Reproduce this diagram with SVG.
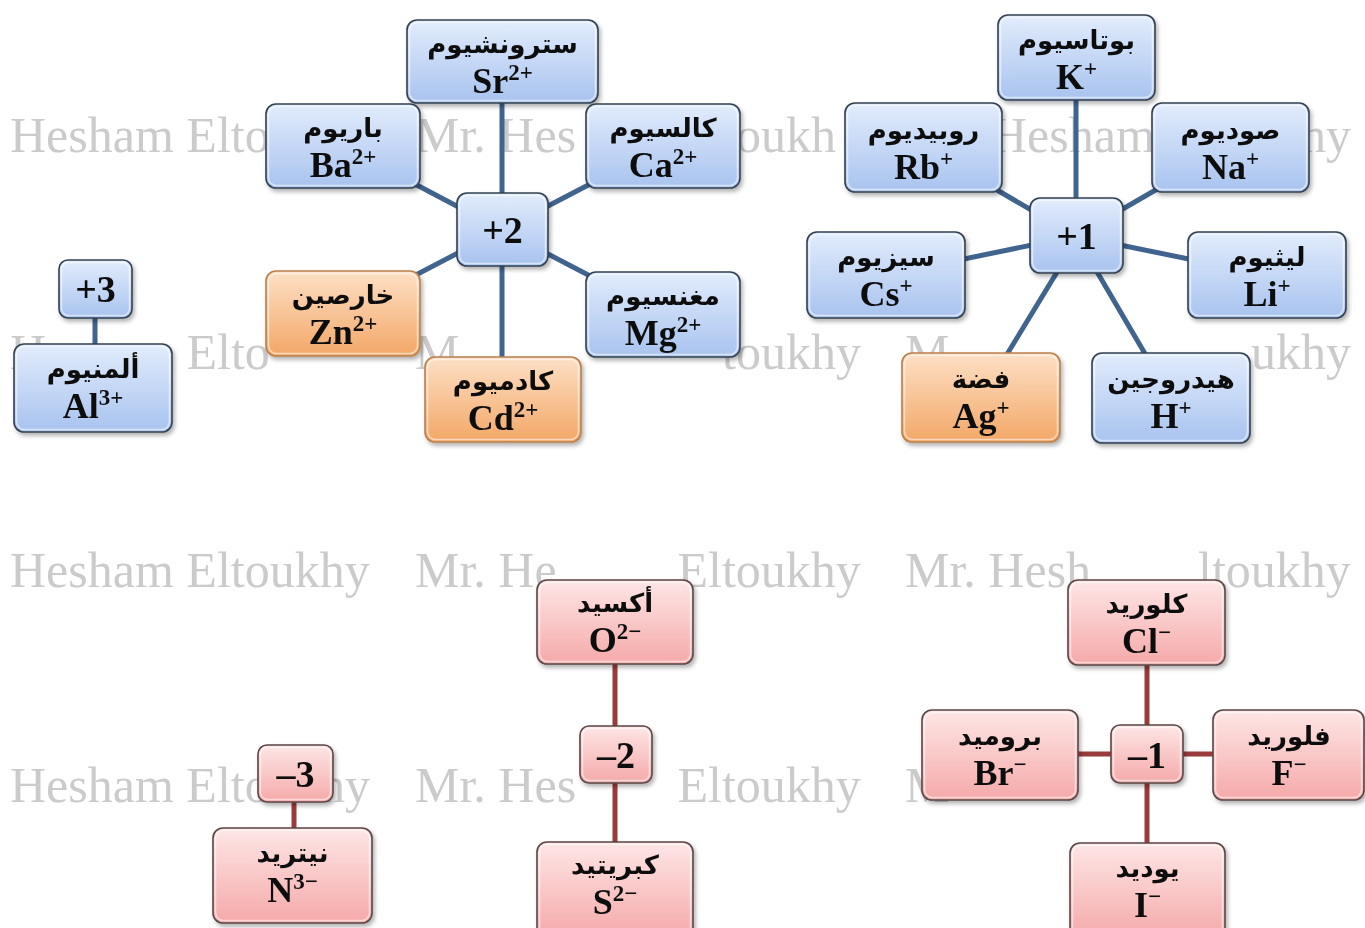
<svg xmlns="http://www.w3.org/2000/svg" width="1365" height="928" viewBox="0 0 1365 928">
<style>
.wm{font-family:"Liberation Serif",serif;font-size:50px;fill:#cbcbcb}
.node rect.b{stroke-width:1.6}
.blue rect.b{fill:url(#gBlue);stroke:#33404f}
.orange rect.b{fill:url(#gOrange);stroke:#b9804c}
.pink rect.b{fill:url(#gPink);stroke:#5a4646}
.node rect.h{fill:none;stroke:#ffffff;stroke-opacity:0.55;stroke-width:1.5}
.node{filter:url(#sh)}
.ar{font-family:"DejaVu Sans","Noto Sans",sans-serif;font-weight:bold;font-size:26px;fill:#111;text-anchor:middle}
.la{font-family:"Liberation Serif",serif;font-weight:bold;font-size:36px;fill:#111;text-anchor:middle}
.sup{font-size:23px}
.num{font-family:"Liberation Serif",serif;font-weight:bold;font-size:38px;fill:#111;text-anchor:middle}
.cb line{stroke:#41648f;stroke-width:5}
.cr line{stroke:#9a3b3d;stroke-width:5}
</style>
<defs>
<linearGradient id="gBlue" x1="0" y1="0" x2="0" y2="1">
<stop offset="0" stop-color="#e2ecfc"/><stop offset="1" stop-color="#a8c3ef"/>
</linearGradient>
<linearGradient id="gOrange" x1="0" y1="0" x2="0" y2="1">
<stop offset="0" stop-color="#fde0c6"/><stop offset="1" stop-color="#f3a767"/>
</linearGradient>
<linearGradient id="gPink" x1="0" y1="0" x2="0" y2="1">
<stop offset="0" stop-color="#fee6e6"/><stop offset="1" stop-color="#f5a9a9"/>
</linearGradient>
<filter id="sh" x="-10%" y="-10%" width="125%" height="130%">
<feDropShadow dx="2" dy="3" stdDeviation="2" flood-color="#000" flood-opacity="0.3"/>
</filter>
</defs>
<rect x="0" y="0" width="1365" height="928" fill="#ffffff"/>
<g id="watermark">
<text class="wm" x="10" y="152">Hesham Elto</text>
<text class="wm" x="415" y="152">Mr. Hes</text>
<text class="wm" x="736" y="152">oukh</text>
<text class="wm" x="991" y="152">Hesham</text>
<text class="wm" x="1301" y="152">hy</text>
<text class="wm" x="10" y="369">H</text>
<text class="wm" x="186.5" y="369">Elto</text>
<text class="wm" x="415" y="369">M</text>
<text class="wm" x="722" y="369">toukhy</text>
<text class="wm" x="905" y="369">M</text>
<text class="wm" x="1251" y="369">ukhy</text>
<text class="wm" x="10" y="587">Hesham Eltoukhy</text>
<text class="wm" x="415" y="587">Mr. He</text>
<text class="wm" x="677.5" y="587">Eltoukhy</text>
<text class="wm" x="905" y="587">Mr. Hesh</text>
<text class="wm" x="1198" y="587">ltoukhy</text>
<text class="wm" x="10" y="802">Hesham Elto</text>
<text class="wm" x="320" y="802">hy</text>
<text class="wm" x="415" y="802">Mr. Hes</text>
<text class="wm" x="677.5" y="802">Eltoukhy</text>
<text class="wm" x="905" y="802">M</text>
</g>
<g id="connectors">
<g class="cb">
<line x1="502" y1="100" x2="502" y2="360"/>
<line x1="502" y1="230" x2="343" y2="146"/>
<line x1="502" y1="230" x2="663" y2="146"/>
<line x1="502" y1="230" x2="343" y2="313"/>
<line x1="502" y1="230" x2="663" y2="314"/>
<line x1="95" y1="315" x2="95" y2="347"/>
<line x1="1076" y1="97" x2="1076" y2="236"/>
<line x1="1076" y1="236" x2="923" y2="147"/>
<line x1="1076" y1="236" x2="1230" y2="147"/>
<line x1="1076" y1="236" x2="886" y2="275"/>
<line x1="1076" y1="236" x2="1267" y2="275"/>
<line x1="1079" y1="236" x2="981" y2="397"/>
<line x1="1076" y1="236" x2="1171" y2="398"/>
</g>
<g class="cr">
<line x1="615" y1="660" x2="615" y2="846"/>
<line x1="294" y1="798" x2="294" y2="832"/>
<line x1="1147" y1="660" x2="1147" y2="846"/>
<line x1="1075" y1="754" x2="1216" y2="754"/>
</g>
</g>

<g id="n-sr" class="node blue"><rect class="b" x="407" y="20" width="191" height="83" rx="10"/><rect class="h" x="409.5" y="22.5" width="186" height="78" rx="8"/><text class="ar" x="502.5" y="53">سترونشيوم</text><text class="la" x="502.5" y="93">Sr<tspan class="sup" dy="-13">2+</tspan></text></g>
<g id="n-ba" class="node blue"><rect class="b" x="266" y="104" width="154" height="84" rx="10"/><rect class="h" x="268.5" y="106.5" width="149" height="79" rx="8"/><text class="ar" x="343" y="137">باريوم</text><text class="la" x="343" y="177">Ba<tspan class="sup" dy="-13">2+</tspan></text></g>
<g id="n-ca" class="node blue"><rect class="b" x="586" y="104" width="154" height="84" rx="10"/><rect class="h" x="588.5" y="106.5" width="149" height="79" rx="8"/><text class="ar" x="663" y="137">كالسيوم</text><text class="la" x="663" y="177">Ca<tspan class="sup" dy="-13">2+</tspan></text></g>
<g id="n-p2" class="node blue"><rect class="b" x="457" y="193" width="91" height="73" rx="10"/><rect class="h" x="459.5" y="195.5" width="86" height="68" rx="8"/><text class="num" x="502.5" y="243">+2</text></g>
<g id="n-zn" class="node orange"><rect class="b" x="266" y="271" width="154" height="85" rx="10"/><rect class="h" x="268.5" y="273.5" width="149" height="80" rx="8"/><text class="ar" x="343" y="304">خارصين</text><text class="la" x="343" y="344">Zn<tspan class="sup" dy="-13">2+</tspan></text></g>
<g id="n-mg" class="node blue"><rect class="b" x="586" y="272" width="154" height="85" rx="10"/><rect class="h" x="588.5" y="274.5" width="149" height="80" rx="8"/><text class="ar" x="663" y="305">مغنسيوم</text><text class="la" x="663" y="345">Mg<tspan class="sup" dy="-13">2+</tspan></text></g>
<g id="n-cd" class="node orange"><rect class="b" x="425" y="357" width="156" height="85" rx="10"/><rect class="h" x="427.5" y="359.5" width="151" height="80" rx="8"/><text class="ar" x="503" y="390">كادميوم</text><text class="la" x="503" y="430">Cd<tspan class="sup" dy="-13">2+</tspan></text></g>

<g id="n-p3" class="node blue"><rect class="b" x="59" y="260" width="73" height="58" rx="9"/><rect class="h" x="61.5" y="262.5" width="68" height="53" rx="7"/><text class="num" x="95.5" y="302">+3</text></g>
<g id="n-al" class="node blue"><rect class="b" x="14" y="344" width="158" height="88" rx="10"/><rect class="h" x="16.5" y="346.5" width="153" height="83" rx="8"/><text class="ar" x="93" y="378">ألمنيوم</text><text class="la" x="93" y="418">Al<tspan class="sup" dy="-13">3+</tspan></text></g>

<g id="n-k" class="node blue"><rect class="b" x="998" y="15" width="157" height="85" rx="10"/><rect class="h" x="1000.5" y="17.5" width="152" height="80" rx="8"/><text class="ar" x="1076.5" y="49">بوتاسيوم</text><text class="la" x="1076.5" y="89">K<tspan class="sup" dy="-13">+</tspan></text></g>
<g id="n-rb" class="node blue"><rect class="b" x="845" y="103" width="157" height="89" rx="10"/><rect class="h" x="847.5" y="105.5" width="152" height="84" rx="8"/><text class="ar" x="923.5" y="139">روبيديوم</text><text class="la" x="923.5" y="179">Rb<tspan class="sup" dy="-13">+</tspan></text></g>
<g id="n-na" class="node blue"><rect class="b" x="1152" y="103" width="157" height="89" rx="10"/><rect class="h" x="1154.5" y="105.5" width="152" height="84" rx="8"/><text class="ar" x="1230.5" y="139">صوديوم</text><text class="la" x="1230.5" y="179">Na<tspan class="sup" dy="-13">+</tspan></text></g>
<g id="n-p1" class="node blue"><rect class="b" x="1030" y="198" width="93" height="75" rx="10"/><rect class="h" x="1032.5" y="200.5" width="88" height="70" rx="8"/><text class="num" x="1076.5" y="249">+1</text></g>
<g id="n-cs" class="node blue"><rect class="b" x="807" y="232" width="158" height="86" rx="10"/><rect class="h" x="809.5" y="234.5" width="153" height="81" rx="8"/><text class="ar" x="886" y="266">سيزيوم</text><text class="la" x="886" y="306">Cs<tspan class="sup" dy="-13">+</tspan></text></g>
<g id="n-li" class="node blue"><rect class="b" x="1188" y="232" width="158" height="86" rx="10"/><rect class="h" x="1190.5" y="234.5" width="153" height="81" rx="8"/><text class="ar" x="1267" y="266">ليثيوم</text><text class="la" x="1267" y="306">Li<tspan class="sup" dy="-13">+</tspan></text></g>
<g id="n-ag" class="node orange"><rect class="b" x="902" y="353" width="158" height="89" rx="10"/><rect class="h" x="904.5" y="355.5" width="153" height="84" rx="8"/><text class="ar" x="981" y="388">فضة</text><text class="la" x="981" y="428">Ag<tspan class="sup" dy="-13">+</tspan></text></g>
<g id="n-h" class="node blue"><rect class="b" x="1092" y="353" width="158" height="90" rx="10"/><rect class="h" x="1094.5" y="355.5" width="153" height="85" rx="8"/><text class="ar" x="1171" y="388">هيدروجين</text><text class="la" x="1171" y="428">H<tspan class="sup" dy="-13">+</tspan></text></g>

<g id="n-o" class="node pink"><rect class="b" x="537" y="580" width="156" height="84" rx="10"/><rect class="h" x="539.5" y="582.5" width="151" height="79" rx="8"/><text class="ar" x="615" y="612">أكسيد</text><text class="la" x="615" y="652">O<tspan class="sup" dy="-13">2−</tspan></text></g>
<g id="n-m2" class="node pink"><rect class="b" x="580" y="726" width="72" height="57" rx="9"/><rect class="h" x="582.5" y="728.5" width="67" height="52" rx="7"/><text class="num" x="616" y="768">–2</text></g>
<g id="n-s" class="node pink"><rect class="b" x="537" y="842" width="156" height="95" rx="10"/><rect class="h" x="539.5" y="844.5" width="151" height="90" rx="8"/><text class="ar" x="615" y="874">كبريتيد</text><text class="la" x="615" y="914">S<tspan class="sup" dy="-13">2−</tspan></text></g>

<g id="n-m3" class="node pink"><rect class="b" x="258" y="745" width="75" height="57" rx="9"/><rect class="h" x="260.5" y="747.5" width="70" height="52" rx="7"/><text class="num" x="295.5" y="787">–3</text></g>
<g id="n-n" class="node pink"><rect class="b" x="213" y="828" width="159" height="95" rx="10"/><rect class="h" x="215.5" y="830.5" width="154" height="90" rx="8"/><text class="ar" x="292.5" y="862">نيتريد</text><text class="la" x="292.5" y="902">N<tspan class="sup" dy="-13">3−</tspan></text></g>

<g id="n-cl" class="node pink"><rect class="b" x="1068" y="580" width="157" height="85" rx="10"/><rect class="h" x="1070.5" y="582.5" width="152" height="80" rx="8"/><text class="ar" x="1146.5" y="613">كلوريد</text><text class="la" x="1146.5" y="653">Cl<tspan class="sup" dy="-13">−</tspan></text></g>
<g id="n-br" class="node pink"><rect class="b" x="922" y="710" width="156" height="90" rx="10"/><rect class="h" x="924.5" y="712.5" width="151" height="85" rx="8"/><text class="ar" x="1000" y="745">بروميد</text><text class="la" x="1000" y="785">Br<tspan class="sup" dy="-13">−</tspan></text></g>
<g id="n-m1" class="node pink"><rect class="b" x="1111" y="725" width="72" height="58" rx="9"/><rect class="h" x="1113.5" y="727.5" width="67" height="53" rx="7"/><text class="num" x="1147" y="768">–1</text></g>
<g id="n-f" class="node pink"><rect class="b" x="1213" y="710" width="151" height="90" rx="10"/><rect class="h" x="1215.5" y="712.5" width="146" height="85" rx="8"/><text class="ar" x="1289" y="745">فلوريد</text><text class="la" x="1289" y="785">F<tspan class="sup" dy="-13">−</tspan></text></g>
<g id="n-i" class="node pink"><rect class="b" x="1070" y="843" width="155" height="95" rx="10"/><rect class="h" x="1072.5" y="845.5" width="150" height="90" rx="8"/><text class="ar" x="1147.5" y="877">يوديد</text><text class="la" x="1147.5" y="917">I<tspan class="sup" dy="-13">−</tspan></text></g>
</svg>
